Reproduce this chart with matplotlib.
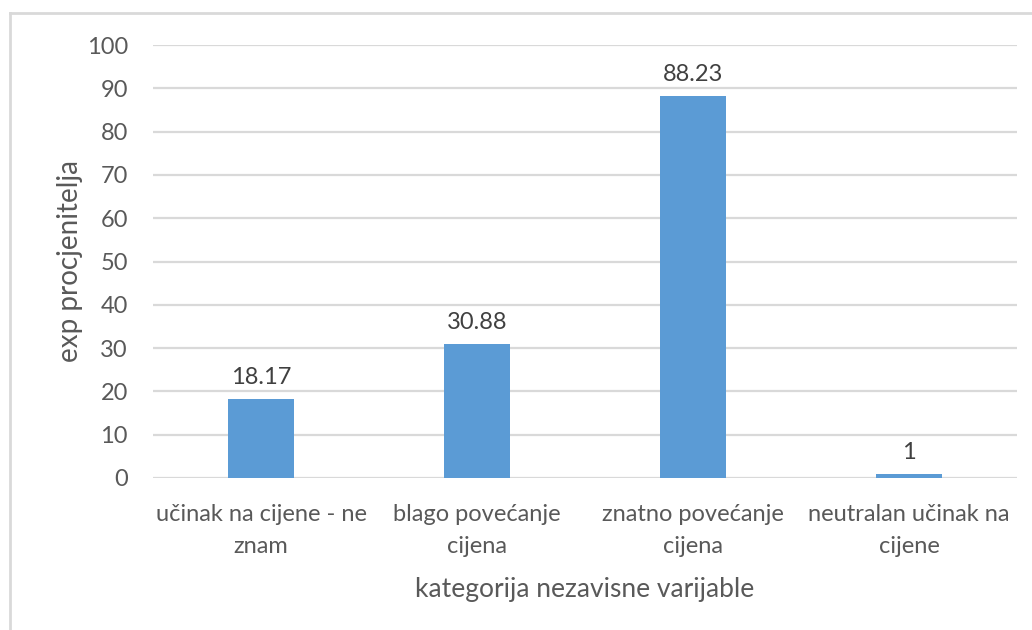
import matplotlib
matplotlib.use("Agg")
import matplotlib.pyplot as plt
from matplotlib.lines import Line2D

categories = ["učinak na cijene - ne\nznam", "blago povećanje\ncijena",
              "znatno povećanje\ncijena", "neutralan učinak na\ncijene"]
values = [18.17, 30.88, 88.23, 1]
value_labels = ["18.17", "30.88", "88.23", "1"]
yticks = [0, 10, 20, 30, 40, 50, 60, 70, 80, 90, 100]

plt.rcParams["font.family"] = ["Lato", "DejaVu Sans"]
text_color = "#595959"
grid_color = "#D9D9D9"
bar_color = "#5B9BD5"

W, H = 1032, 630
fig = plt.figure(figsize=(W / 100, H / 100), dpi=100)
ax = fig.add_axes([153 / W, 1 - 478 / H, (1017 - 153) / W, (478 - 45) / H])

x = range(len(categories))
bars = ax.bar(x, values, width=0.31, color=bar_color, zorder=3)
for rect, lab in zip(bars, value_labels):
    ax.annotate(lab, (rect.get_x() + rect.get_width() / 2, rect.get_height()),
                xytext=(0, 8), textcoords="offset points", ha="center", va="bottom",
                fontsize=17, color="#404040")

ax.set_xlim(-0.5, len(categories) - 0.5)
ax.set_ylim(0, 100)
ax.set_yticks(yticks)
ax.set_xticks(list(x))
ax.set_xticklabels(categories, fontsize=17, color=text_color, linespacing=1.6)
ax.tick_params(axis="both", length=0, labelsize=17, labelcolor=text_color)
ax.tick_params(axis="y", pad=18)
ax.tick_params(axis="x", pad=19)
ax.yaxis.grid(True, color=grid_color, linewidth=1.6, zorder=0)
for s in ax.spines.values():
    s.set_visible(False)

ax.set_ylabel("exp procjenitelja", fontsize=20, color=text_color, labelpad=3)
ax.set_xlabel("kategorija nezavisne varijable", fontsize=19, color=text_color, labelpad=15)

# outer frame lines (top and left)
fig.add_artist(Line2D([10 / W, 1.0], [1 - 13 / H, 1 - 13 / H], transform=fig.transFigure,
                      color=grid_color, linewidth=2))
fig.add_artist(Line2D([10 / W, 10 / W], [1 - 13 / H, 0.0], transform=fig.transFigure,
                      color=grid_color, linewidth=2))

fig.savefig("out.png", dpi=100)
